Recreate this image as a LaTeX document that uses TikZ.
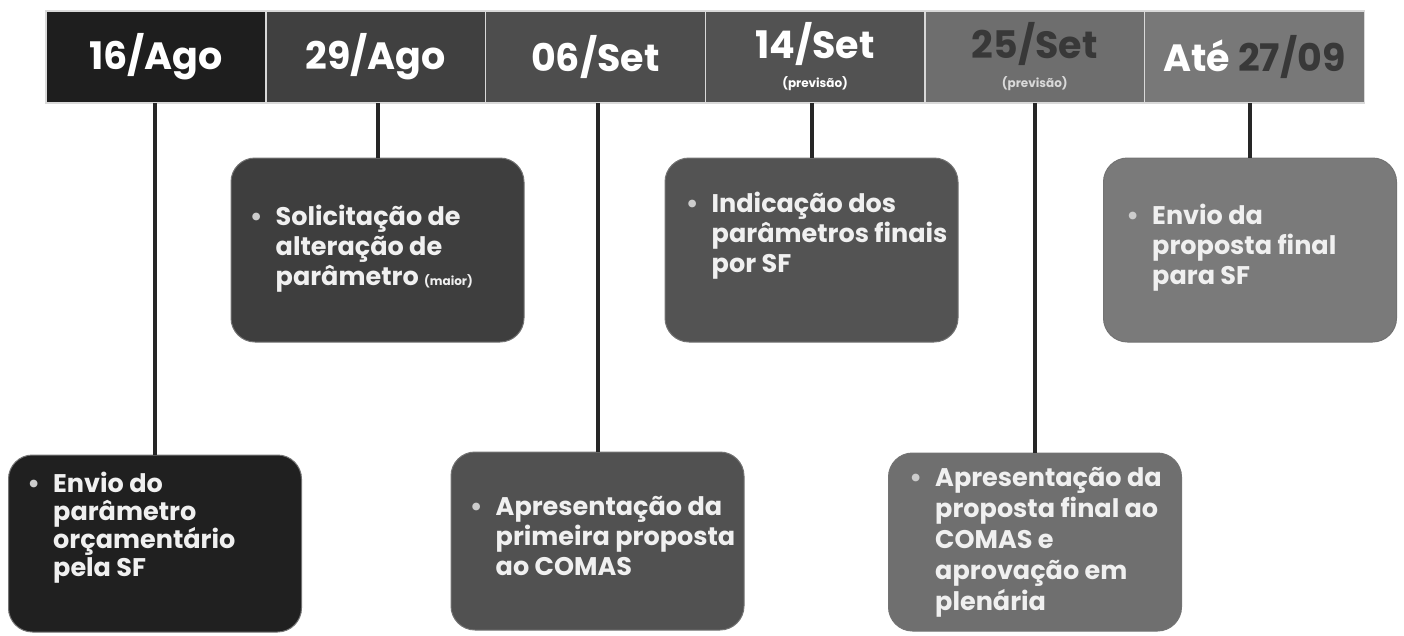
\documentclass[tikz,border=0pt]{standalone}
\usepackage{fontspec}
\setmainfont{Poppins}
\usepackage{xcolor}
\usetikzlibrary{positioning}
\definecolor{dateone}{HTML}{1E1E1E}
\definecolor{datetwo}{HTML}{404040}
\definecolor{datethree}{HTML}{4D4D4D}
\definecolor{datefour}{HTML}{525252}
\definecolor{datefive}{HTML}{6E6E6E}
\definecolor{datesix}{HTML}{787878}
\definecolor{cardone}{HTML}{202020}
\definecolor{cardtwo}{HTML}{3E3E3E}
\definecolor{cardthree}{HTML}{515151}
\definecolor{cardfour}{HTML}{535353}
\definecolor{cardfive}{HTML}{6F6F6F}
\definecolor{cardsix}{HTML}{7A7A7A}
\definecolor{darktext}{HTML}{383838}

\tikzset{
  datecell/.style={draw=gray!30, line width=1.5pt, outer sep=0pt, inner sep=0pt,
    minimum width=219.7pt, minimum height=92pt, text=white, align=center,
    font=\fontsize{38}{38}\selectfont\bfseries},
  card/.style={rounded corners=24pt, draw=black!55, line width=1pt, minimum width=293pt},
  cardtext/.style={inner sep=0pt, anchor=base west, text=white!94!black,
    font=\fontsize{25.5}{30}\selectfont\bfseries},
  stem/.style={draw=black!85, line width=4pt},
}
\newcommand{\itemtext}[1]{\parbox[t]{250pt}{\raggedright\leavevmode\llap{{\color{white!80!black}\textbullet}\hspace{13pt}}#1}}
\newcommand{\smallnote}[1]{{\fontsize{12}{12}\selectfont #1}}

\begin{document}
\begin{tikzpicture}[x=1pt,y=-1pt]
  \useasboundingbox (0,0) rectangle (1404,635);
  % date bar
  \node[datecell, fill=dateone] (d1) at (156,57) {16/Ago};
  \node[datecell, fill=datetwo, right=0pt of d1] (d2) {29/Ago};
  \node[datecell, fill=datethree, right=0pt of d2] (d3) {06/Set};
  \node[datecell, fill=datefour, right=0pt of d3] (d4) {14/Set\\[-9pt]\smallnote{(previsão)}};
  \node[datecell, fill=datefive, right=0pt of d4, text=darktext] (d5) {25/Set\\[-9pt]\textcolor{white!85!black}{\smallnote{(previsão)}}};
  \node[datecell, fill=datesix, right=0pt of d5] (d6) {Até \textcolor{darktext}{27/09}};

  % cards
  \node[card, fill=cardone, minimum height=177pt] (b1) at (155,543.5) {};
  \node[card, fill=cardtwo, minimum height=184pt] (b2) at (377.5,250) {};
  \node[card, fill=cardthree, minimum height=178pt] (b3) at (597.5,541) {};
  \node[card, fill=cardfour, minimum height=184pt] (b4) at (811.5,250) {};
  \node[card, fill=cardfive, minimum height=178pt] (b5) at (1035,542) {};
  \node[card, fill=cardsix, minimum height=184pt] (b6) at (1250,250) {};

  % stems
  \draw[stem] (d1.south -| b1.north) -- (b1.north);
  \draw[stem] (d2.south -| b2.north) -- (b2.north);
  \draw[stem] (d3.south -| b3.north) -- (b3.north);
  \draw[stem] (d4.south -| b4.north) -- (b4.north);
  \draw[stem] (d5.south -| b5.north) -- (b5.north);
  \draw[stem] (d6.south -| b6.north) -- (b6.north);

  % card texts
  \node[cardtext, font=\fontsize{25.5}{28}\selectfont\bfseries] (t1) at ([shift={(45,38)}]b1.north west)
    {\itemtext{Envio do\\parâmetro\\orçamentário\\pela SF}};
  \node[cardtext] (t2) at ([shift={(45,68)}]b2.north west)
    {\itemtext{Solicitação de\\alteração de\\parâmetro \smallnote{(maior)}}};
  \node[cardtext] (t3) at ([shift={(45,64)}]b3.north west)
    {\itemtext{Apresentação da\\primeira proposta\\ao COMAS}};
  \node[cardtext] (t4) at ([shift={(47,55)}]b4.north west)
    {\itemtext{Indicação dos\\parâmetros finais\\por SF}};
  \node[cardtext, font=\fontsize{25.5}{31}\selectfont\bfseries] (t5) at ([shift={(47,34)}]b5.north west)
    {\itemtext{Apresentação da\\proposta final ao\\COMAS e\\aprovação em\\plenária}};
  \node[cardtext] (t6) at ([shift={(49,67)}]b6.north west)
    {\itemtext{Envio da\\proposta final\\para SF}};
\end{tikzpicture}
\end{document}
